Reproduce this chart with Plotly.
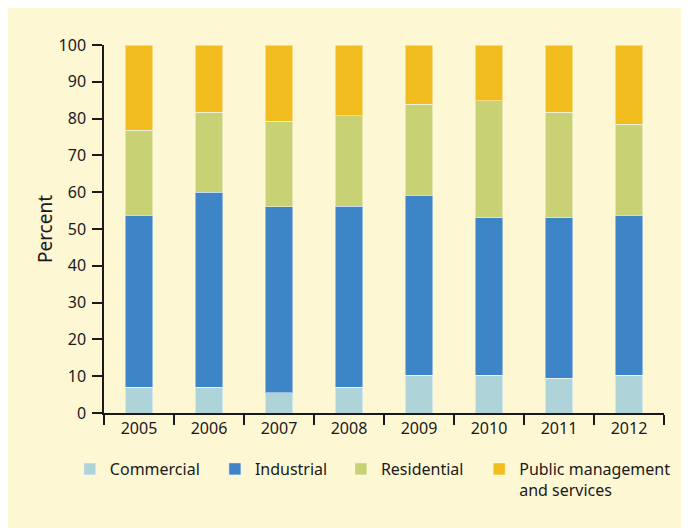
"""Stacked percent bar chart of energy use by sector, 2005-2012."""

import plotly.graph_objects as go

# Data (percent of total)
years = ['2005', '2006', '2007', '2008', '2009', '2010', '2011', '2012']
commercial = [7.0, 7.0, 5.5, 7.0, 10.2, 10.2, 9.4, 10.2]
industrial = [46.8, 53.0, 50.6, 49.2, 49.0, 42.8, 43.6, 43.6]
residential = [23.0, 21.7, 23.2, 24.6, 24.7, 31.8, 28.7, 24.7]
public_services = [23.2, 18.3, 20.7, 19.2, 16.1, 15.2, 18.3, 21.5]

series = [
    ('Commercial', commercial, '#aed4da'),
    ('Industrial', industrial, '#3e85c7'),
    ('Residential', residential, '#c8d274'),
    ('Public management<br>and services', public_services, '#f0bc1e'),
]

CREAM = '#fef7d4'
FONT = 'Noto Sans, sans-serif'

# one legend per series so the entries can be spaced like the original
legend_ids = ['legend', 'legend2', 'legend3', 'legend4']
legend_x = [-0.061, 0.198, 0.423, 0.670]

fig = go.Figure()

for (name, values, color), legend_id in zip(series, legend_ids):
    fig.add_trace(go.Bar(
        x=years,
        y=values,
        name=name,
        legend=legend_id,
        marker=dict(color=color, line=dict(color='rgba(255,255,255,0.45)', width=1)),
    ))

legend_style = dict(
    orientation='h',
    xanchor='left',
    y=-0.106,
    yanchor='top',
    bgcolor='rgba(0,0,0,0)',
    font=dict(size=16),
    itemwidth=30,
    valign='top',
)

fig.update_layout(
    barmode='stack',
    bargap=0.61,
    width=689,
    height=528,
    paper_bgcolor=CREAM,
    plot_bgcolor=CREAM,
    font=dict(family=FONT, size=16, color='#1a1a1a'),
    margin=dict(l=96, r=33, t=37, b=123),
    showlegend=True,
    **{lid: dict(legend_style, x=lx) for lid, lx in zip(legend_ids, legend_x)},
)

fig.update_xaxes(
    type='category',
    range=[-0.5, 7.5],
    showline=True,
    linecolor='#1a1a1a',
    linewidth=1.5,
    ticks='outside',
    tickson='boundaries',
    ticklen=10,
    tickwidth=1.5,
    tickcolor='#1a1a1a',
    showgrid=False,
    zeroline=False,
)

fig.update_yaxes(
    title=dict(text='Percent', standoff=1),
    range=[0, 100],
    dtick=10,
    showline=True,
    linecolor='#1a1a1a',
    linewidth=1.5,
    ticks='outside',
    ticklen=10,
    tickwidth=1.5,
    tickcolor='#1a1a1a',
    ticklabelstandoff=3,
    showgrid=False,
    zeroline=False,
)

fig.write_html('out.html')
